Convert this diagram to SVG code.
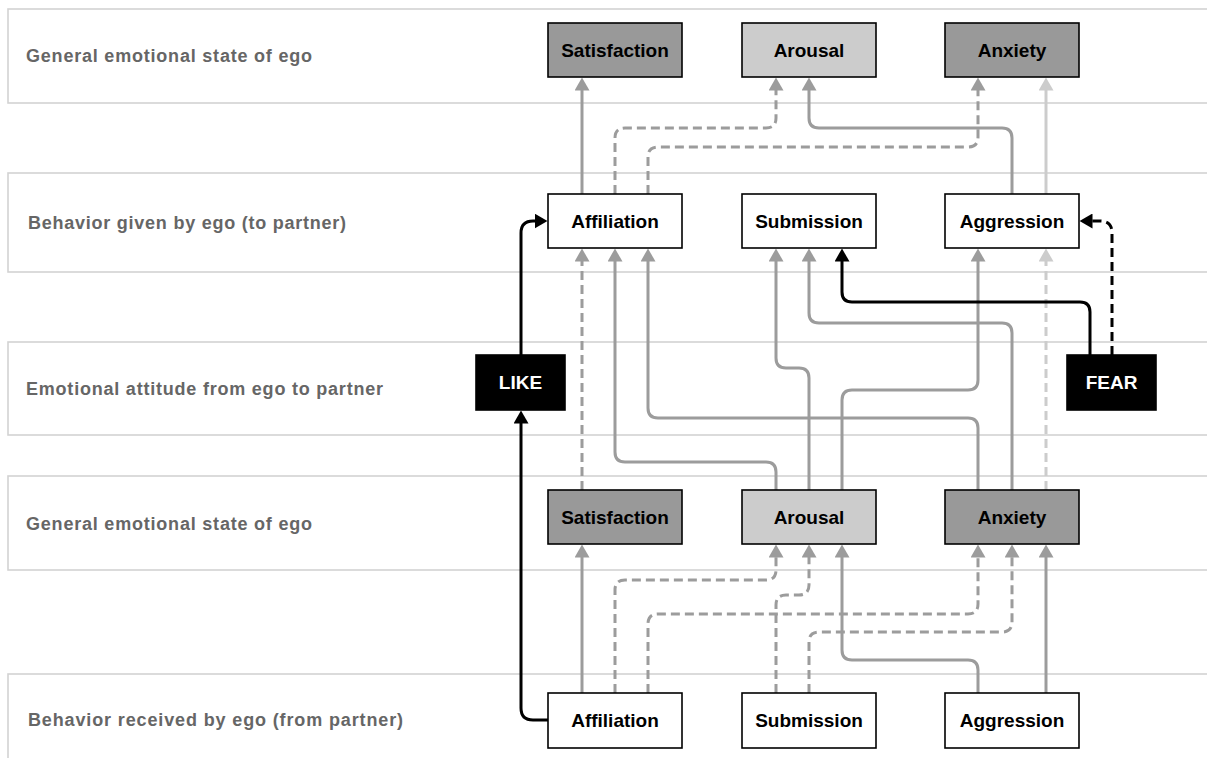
<svg xmlns="http://www.w3.org/2000/svg" width="1207" height="758" viewBox="0 0 1207 758">
<style>
.lane{fill:#fff;stroke:#d3d3d3;stroke-width:1.6}
.lbl{font-family:"Liberation Sans",Arial,sans-serif;font-weight:bold;font-size:18px;fill:#666}
.box{stroke:#000;stroke-width:1.6}
.w{fill:#fff}.d{fill:#999}.l{fill:#ccc}.k{fill:#000}
.t{font-family:"Liberation Sans",Arial,sans-serif;font-weight:bold;font-size:19px;fill:#000;text-anchor:middle}
.tw{fill:#fff}
.c{fill:none;stroke-width:3}
.g{stroke:#9c9c9c;marker-end:url(#ag)}
.lg{stroke:#cccccc;marker-end:url(#al)}
.bk{stroke:#000;marker-end:url(#ak)}
.ds{stroke-dasharray:9 5}
</style>
<defs>
<marker id="ag" markerUnits="userSpaceOnUse" viewBox="0 0 13 15" markerWidth="13" markerHeight="15" refX="0.5" refY="7.5" orient="auto"><path d="M0,0 L13,7.5 L0,15 z" fill="#9c9c9c"/></marker>
<marker id="al" markerUnits="userSpaceOnUse" viewBox="0 0 13 15" markerWidth="13" markerHeight="15" refX="0.5" refY="7.5" orient="auto"><path d="M0,0 L13,7.5 L0,15 z" fill="#cccccc"/></marker>
<marker id="ak" markerUnits="userSpaceOnUse" viewBox="0 0 13 15" markerWidth="13" markerHeight="15" refX="0.5" refY="7.5" orient="auto"><path d="M0,0 L13,7.5 L0,15 z" fill="#000"/></marker>
</defs>
<rect width="1207" height="758" fill="#fff"/>
<g id="lanes">
<rect class="lane" x="8" y="9" width="1220" height="94"/>
<text class="lbl" x="26" y="62" textLength="286" lengthAdjust="spacing">General emotional state of ego</text>
<rect class="lane" x="8" y="173" width="1220" height="99"/>
<text class="lbl" x="28" y="229" textLength="318" lengthAdjust="spacing">Behavior given by ego (to partner)</text>
<rect class="lane" x="8" y="342" width="1220" height="93"/>
<text class="lbl" x="26" y="395" textLength="357" lengthAdjust="spacing">Emotional attitude from ego to partner</text>
<rect class="lane" x="8" y="476" width="1220" height="94"/>
<text class="lbl" x="26" y="530" textLength="286" lengthAdjust="spacing">General emotional state of ego</text>
<rect class="lane" x="8" y="674" width="1220" height="120"/>
<text class="lbl" x="28" y="726" textLength="375" lengthAdjust="spacing">Behavior received by ego (from partner)</text>
</g>
<g id="connectors">
<path class="c g" d="M582 194 V90"/>
<path class="c g ds" d="M615 194 V138 Q615 128 625 128 H766 Q776 128 776 118 V90"/>
<path class="c g ds" d="M648 194 V157 Q648 147 658 147 H968 Q978 147 978 137 V90"/>
<path class="c g" d="M1012 194 V138 Q1012 128 1002 128 H819 Q809 128 809 118 V90"/>
<path class="c lg" d="M1046 194 V90"/>
<path class="c g ds" d="M582 490 V261"/>
<path class="c g" d="M776 490 V472 Q776 462 766 462 H625 Q615 462 615 452 V261"/>
<path class="c g" d="M978 490 V428 Q978 418 968 418 H658 Q648 418 648 408 V261"/>
<path class="c g" d="M809 490 V378 Q809 368 799 368 H786 Q776 368 776 358 V261"/>
<path class="c g" d="M1012 490 V333 Q1012 323 1002 323 H819 Q809 323 809 313 V261"/>
<path class="c g" d="M842 490 V400 Q842 390 852 390 H968 Q978 390 978 380 V261"/>
<path class="c lg ds" d="M1046 490 V261"/>
<path class="c bk" d="M1090 355 V312 Q1090 302 1080 302 H852 Q842 302 842 292 V261"/>
<path class="c bk ds" d="M1112 355 V233 Q1112 221 1100 221 H1092"/>
<path class="c bk" d="M521 355 V233 Q521 221 533 221 H535"/>
<path class="c bk" d="M548 720 H533 Q521 720 521 708 V423"/>
<path class="c g" d="M582 693 V557"/>
<path class="c g ds" d="M615 693 V590 Q615 580 625 580 H766 Q776 580 776 570 V557"/>
<path class="c g ds" d="M648 693 V624 Q648 614 658 614 H968 Q978 614 978 604 V557"/>
<path class="c g ds" d="M776 693 V605 Q776 595 786 595 H799 Q809 595 809 585 V557"/>
<path class="c g ds" d="M809 693 V642 Q809 632 819 632 H1002 Q1012 632 1012 622 V557"/>
<path class="c g" d="M978 693 V670 Q978 660 968 660 H852 Q842 660 842 650 V557"/>
<path class="c g" d="M1046 693 V557"/>
</g>
<g id="n-satisfaction-top"><rect class="box d" x="548" y="23" width="134" height="54"/><text class="t" x="615" y="57">Satisfaction</text></g>
<g id="n-arousal-top"><rect class="box l" x="742" y="23" width="134" height="54"/><text class="t" x="809" y="57">Arousal</text></g>
<g id="n-anxiety-top"><rect class="box d" x="945" y="23" width="134" height="54"/><text class="t" x="1012" y="57">Anxiety</text></g>
<g id="n-affiliation-given"><rect class="box w" x="548" y="194" width="134" height="54"/><text class="t" x="615" y="228">Affiliation</text></g>
<g id="n-submission-given"><rect class="box w" x="742" y="194" width="134" height="54"/><text class="t" x="809" y="228">Submission</text></g>
<g id="n-aggression-given"><rect class="box w" x="945" y="194" width="134" height="54"/><text class="t" x="1012" y="228">Aggression</text></g>
<g id="n-like"><rect class="box k" x="476" y="355" width="89" height="55"/><text class="t tw" x="520.5" y="389">LIKE</text></g>
<g id="n-fear"><rect class="box k" x="1067" y="355" width="89" height="55"/><text class="t tw" x="1111.5" y="389">FEAR</text></g>
<g id="n-satisfaction-state"><rect class="box d" x="548" y="490" width="134" height="54"/><text class="t" x="615" y="524">Satisfaction</text></g>
<g id="n-arousal-state"><rect class="box l" x="742" y="490" width="134" height="54"/><text class="t" x="809" y="524">Arousal</text></g>
<g id="n-anxiety-state"><rect class="box d" x="945" y="490" width="134" height="54"/><text class="t" x="1012" y="524">Anxiety</text></g>
<g id="n-affiliation-received"><rect class="box w" x="548" y="693" width="134" height="55"/><text class="t" x="615" y="727">Affiliation</text></g>
<g id="n-submission-received"><rect class="box w" x="742" y="693" width="134" height="55"/><text class="t" x="809" y="727">Submission</text></g>
<g id="n-aggression-received"><rect class="box w" x="945" y="693" width="134" height="55"/><text class="t" x="1012" y="727">Aggression</text></g>
</svg>
